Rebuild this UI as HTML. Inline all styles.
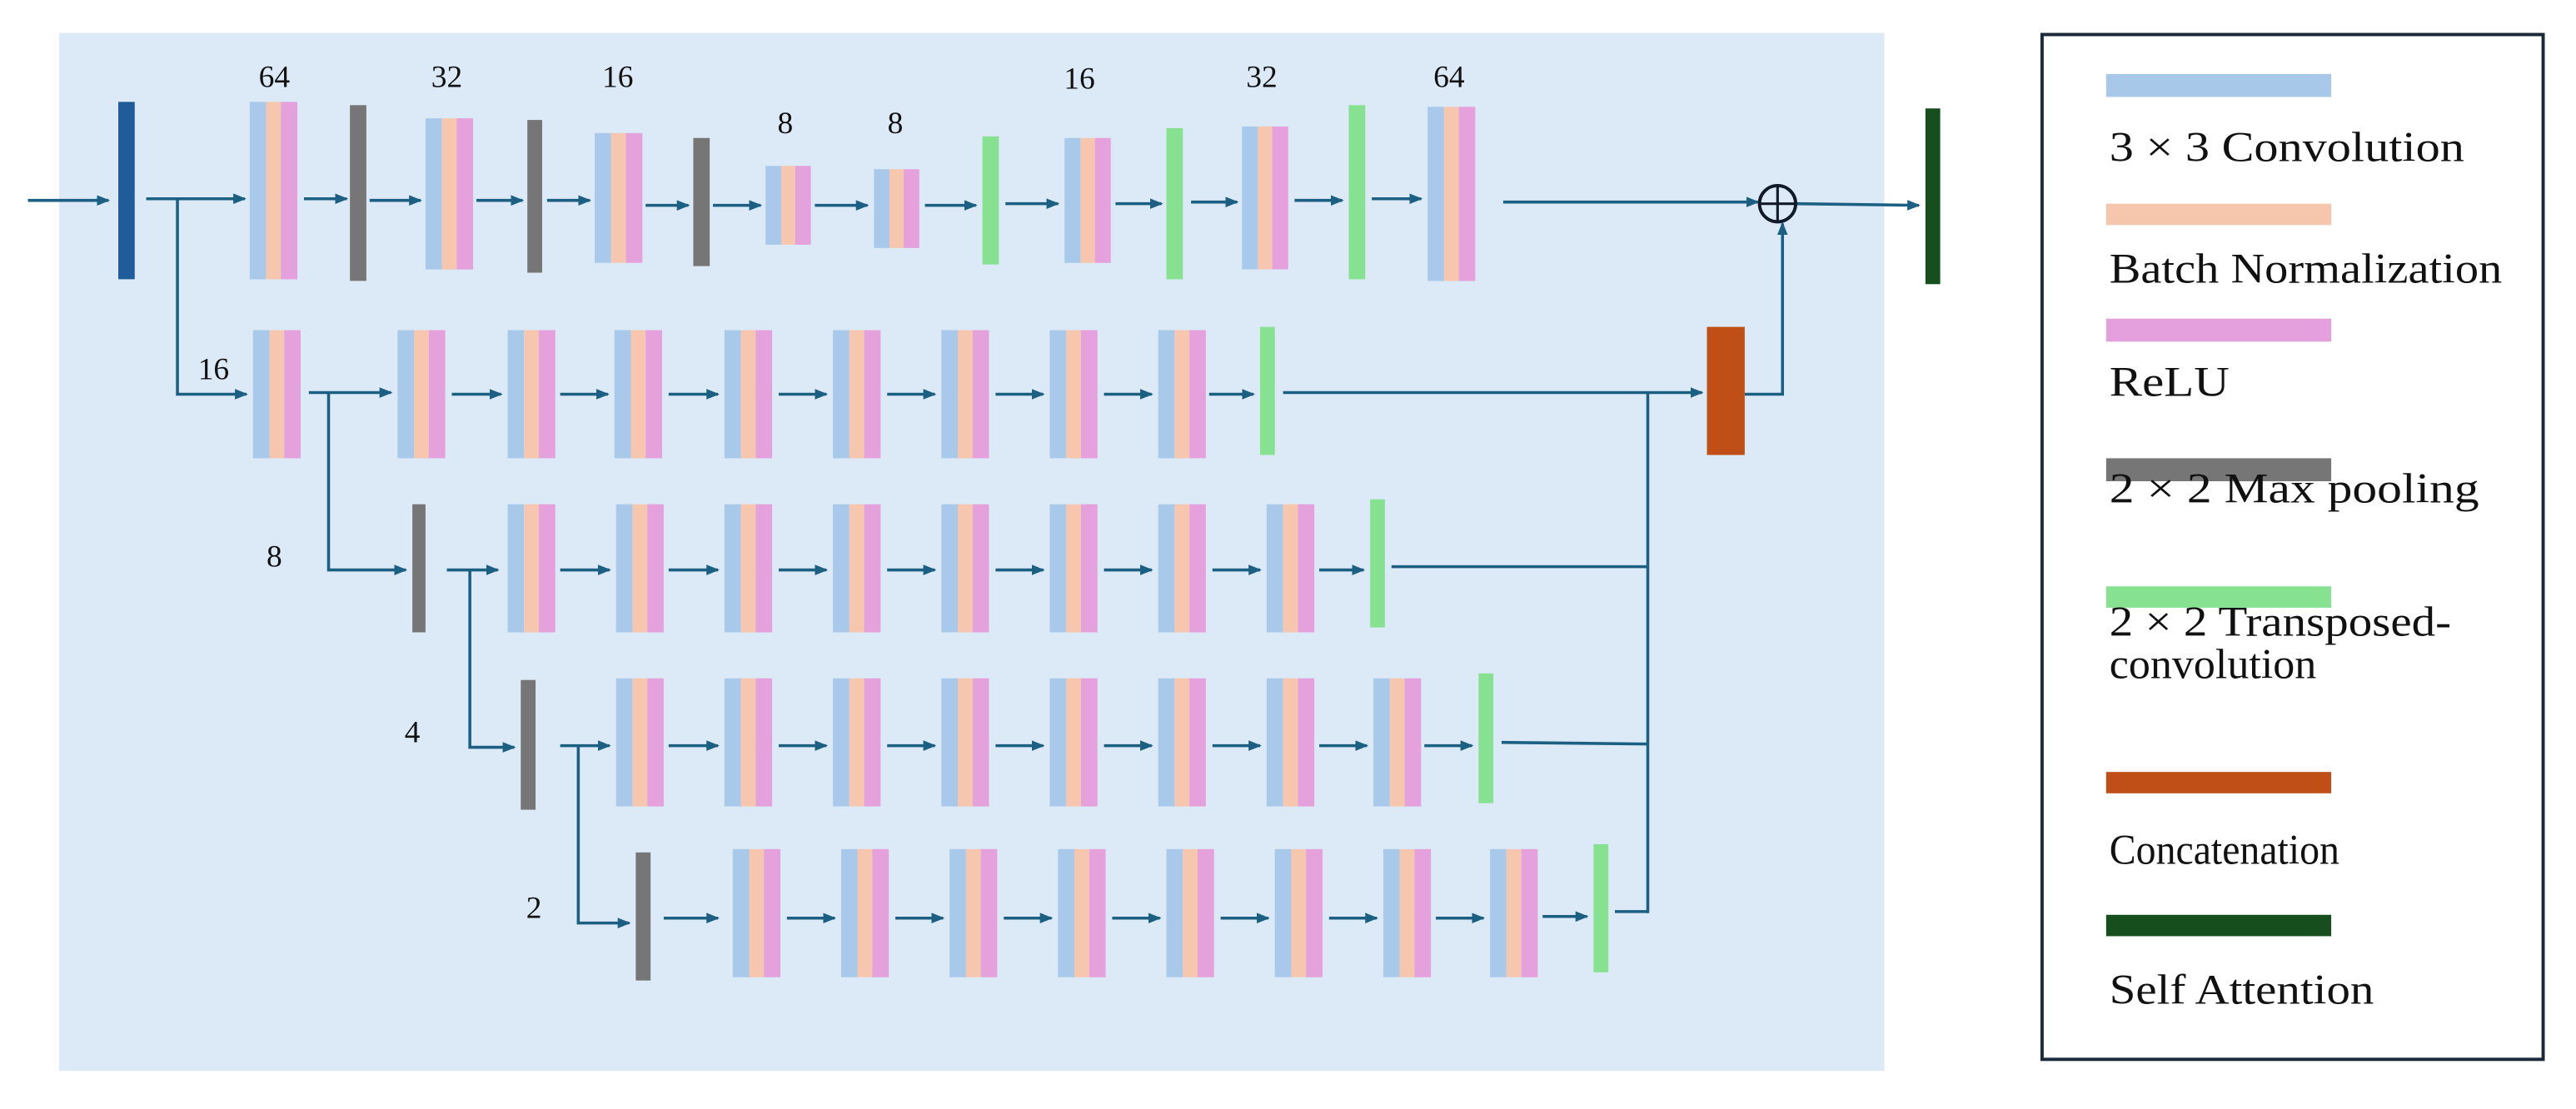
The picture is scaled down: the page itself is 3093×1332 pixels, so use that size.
<!DOCTYPE html>
<html><head><meta charset="utf-8"><style>html,body{margin:0;padding:0;background:#fff}svg{display:block}</style></head>
<body>
<svg width="3093" height="1332" viewBox="0 0 1568 675.2" xmlns="http://www.w3.org/2000/svg">
<defs>
<marker id="a" markerWidth="8" markerHeight="8" refX="7" refY="4" orient="auto" markerUnits="userSpaceOnUse"><path d="M0,0.8 L8,4 L0,7.2 Z" fill="#1b5f83"/></marker>
<g id="b"><rect x="0" y="0" width="10" height="78" fill="#a9c9eb"/><rect x="10" y="0" width="9" height="78" fill="#f6c7ae"/><rect x="19" y="0" width="10" height="78" fill="#e4a1dc"/></g>
</defs>
<rect x="0" y="0" width="1568" height="675.2" fill="#fff"/>
<rect x="36" y="20" width="1111" height="632" fill="#dce9f6"/>
<g stroke="#1b5f83" stroke-width="1.8" fill="none">
<line x1="17" y1="122" x2="66" y2="122" marker-end="url(#a)"/>
<line x1="89" y1="121" x2="149" y2="121" marker-end="url(#a)"/>
<polyline points="108,121 108,240 150,240" marker-end="url(#a)"/>
<line x1="185" y1="121" x2="211" y2="121" marker-end="url(#a)"/>
<line x1="225" y1="122" x2="256" y2="122" marker-end="url(#a)"/>
<line x1="290" y1="122" x2="318" y2="122" marker-end="url(#a)"/>
<line x1="333" y1="122" x2="359" y2="122" marker-end="url(#a)"/>
<line x1="393" y1="125" x2="419" y2="125" marker-end="url(#a)"/>
<line x1="434" y1="125" x2="463" y2="125" marker-end="url(#a)"/>
<line x1="496" y1="125" x2="528" y2="125" marker-end="url(#a)"/>
<line x1="563" y1="125" x2="594" y2="125" marker-end="url(#a)"/>
<line x1="612" y1="124" x2="644" y2="124" marker-end="url(#a)"/>
<line x1="679" y1="124" x2="707" y2="124" marker-end="url(#a)"/>
<line x1="725" y1="123" x2="753" y2="123" marker-end="url(#a)"/>
<line x1="788" y1="122" x2="817" y2="122" marker-end="url(#a)"/>
<line x1="835" y1="121" x2="865" y2="121" marker-end="url(#a)"/>
<line x1="915" y1="123" x2="1070" y2="123" marker-end="url(#a)"/>
<line x1="1093" y1="124" x2="1168" y2="125" marker-end="url(#a)"/>
<line x1="188" y1="239" x2="238" y2="239" marker-end="url(#a)"/>
<polyline points="200,239 200,347 247,347" marker-end="url(#a)"/>
<line x1="275" y1="240" x2="305" y2="240" marker-end="url(#a)"/>
<line x1="341" y1="240" x2="370" y2="240" marker-end="url(#a)"/>
<line x1="407" y1="240" x2="437" y2="240" marker-end="url(#a)"/>
<line x1="474" y1="240" x2="503" y2="240" marker-end="url(#a)"/>
<line x1="540" y1="240" x2="569" y2="240" marker-end="url(#a)"/>
<line x1="606" y1="240" x2="635" y2="240" marker-end="url(#a)"/>
<line x1="672" y1="240" x2="701" y2="240" marker-end="url(#a)"/>
<line x1="736" y1="240" x2="763" y2="240" marker-end="url(#a)"/>
<line x1="781" y1="239" x2="1036" y2="239" marker-end="url(#a)"/>
<polyline points="1062,240 1085,240 1085,136" marker-end="url(#a)"/>
<line x1="1003" y1="239" x2="1003" y2="556"/>
<line x1="272" y1="347" x2="303" y2="347" marker-end="url(#a)"/>
<polyline points="286,347 286,455 313,455" marker-end="url(#a)"/>
<line x1="341" y1="347" x2="371" y2="347" marker-end="url(#a)"/>
<line x1="407" y1="347" x2="437" y2="347" marker-end="url(#a)"/>
<line x1="474" y1="347" x2="503" y2="347" marker-end="url(#a)"/>
<line x1="540" y1="347" x2="569" y2="347" marker-end="url(#a)"/>
<line x1="606" y1="347" x2="635" y2="347" marker-end="url(#a)"/>
<line x1="672" y1="347" x2="701" y2="347" marker-end="url(#a)"/>
<line x1="738" y1="347" x2="767" y2="347" marker-end="url(#a)"/>
<line x1="803" y1="347" x2="830" y2="347" marker-end="url(#a)"/>
<line x1="847" y1="345" x2="1003" y2="345"/>
<line x1="341" y1="454" x2="371" y2="454" marker-end="url(#a)"/>
<polyline points="352,454 352,562 383,562" marker-end="url(#a)"/>
<line x1="407" y1="454" x2="437" y2="454" marker-end="url(#a)"/>
<line x1="474" y1="454" x2="503" y2="454" marker-end="url(#a)"/>
<line x1="540" y1="454" x2="569" y2="454" marker-end="url(#a)"/>
<line x1="606" y1="454" x2="635" y2="454" marker-end="url(#a)"/>
<line x1="672" y1="454" x2="701" y2="454" marker-end="url(#a)"/>
<line x1="738" y1="454" x2="767" y2="454" marker-end="url(#a)"/>
<line x1="803" y1="454" x2="832" y2="454" marker-end="url(#a)"/>
<line x1="867" y1="454" x2="896" y2="454" marker-end="url(#a)"/>
<line x1="914" y1="452" x2="1003" y2="453"/>
<line x1="404" y1="559" x2="437" y2="559" marker-end="url(#a)"/>
<line x1="479" y1="559" x2="508" y2="559" marker-end="url(#a)"/>
<line x1="545" y1="559" x2="574" y2="559" marker-end="url(#a)"/>
<line x1="611" y1="559" x2="640" y2="559" marker-end="url(#a)"/>
<line x1="677" y1="559" x2="706" y2="559" marker-end="url(#a)"/>
<line x1="743" y1="559" x2="772" y2="559" marker-end="url(#a)"/>
<line x1="809" y1="559" x2="838" y2="559" marker-end="url(#a)"/>
<line x1="874" y1="559" x2="903" y2="559" marker-end="url(#a)"/>
<line x1="939" y1="558" x2="966" y2="558" marker-end="url(#a)"/>
<line x1="983" y1="555" x2="1003" y2="555"/>
</g>
<circle cx="1082" cy="124" r="11" fill="none" stroke="#111a2a" stroke-width="2"/>
<line x1="1071" y1="124" x2="1093" y2="124" stroke="#111a2a" stroke-width="1.6"/>
<line x1="1082" y1="113" x2="1082" y2="135" stroke="#111a2a" stroke-width="1.6"/>
<rect x="72" y="62" width="10" height="108" fill="#1f5c99"/>
<g transform="translate(152,62) scale(1,1.385)"><use href="#b"/></g>
<rect x="213" y="64" width="10" height="107" fill="#767676"/>
<g transform="translate(259,72) scale(1,1.18)"><use href="#b"/></g>
<rect x="321" y="73" width="9" height="93" fill="#767676"/>
<g transform="translate(362,81) scale(1,1.013)"><use href="#b"/></g>
<rect x="422" y="84" width="10" height="78" fill="#767676"/>
<g transform="translate(466,101) scale(0.95,0.615)"><use href="#b"/></g>
<g transform="translate(532,103) scale(0.95,0.615)"><use href="#b"/></g>
<rect x="598" y="83" width="10" height="78" fill="#86e190"/>
<g transform="translate(648,84) scale(0.97,0.975)"><use href="#b"/></g>
<rect x="710" y="78" width="10" height="92" fill="#86e190"/>
<g transform="translate(756,77) scale(0.97,1.115)"><use href="#b"/></g>
<rect x="821" y="64" width="10" height="106" fill="#86e190"/>
<g transform="translate(869,65) scale(1,1.36)"><use href="#b"/></g>
<rect x="1172" y="66" width="9" height="107" fill="#174e1d"/>
<use href="#b" x="154" y="201"/>
<use href="#b" x="242" y="201"/><use href="#b" x="309" y="201"/><use href="#b" x="374" y="201"/><use href="#b" x="441" y="201"/>
<use href="#b" x="507" y="201"/><use href="#b" x="573" y="201"/><use href="#b" x="639" y="201"/><use href="#b" x="705" y="201"/>
<rect x="767" y="199" width="9" height="78" fill="#86e190"/>
<rect x="1039" y="199" width="23" height="78" fill="#bf4f16"/>
<rect x="251" y="307" width="8" height="78" fill="#767676"/>
<use href="#b" x="309" y="307"/><use href="#b" x="375" y="307"/><use href="#b" x="441" y="307"/><use href="#b" x="507" y="307"/>
<use href="#b" x="573" y="307"/><use href="#b" x="639" y="307"/><use href="#b" x="705" y="307"/><use href="#b" x="771" y="307"/>
<rect x="834" y="304" width="9" height="78" fill="#86e190"/>
<rect x="317" y="414" width="9" height="79" fill="#767676"/>
<use href="#b" x="375" y="413"/><use href="#b" x="441" y="413"/><use href="#b" x="507" y="413"/><use href="#b" x="573" y="413"/>
<use href="#b" x="639" y="413"/><use href="#b" x="705" y="413"/><use href="#b" x="771" y="413"/><use href="#b" x="836" y="413"/>
<rect x="900" y="410" width="9" height="79" fill="#86e190"/>
<rect x="387" y="519" width="9" height="78" fill="#767676"/>
<use href="#b" x="446" y="517"/><use href="#b" x="512" y="517"/><use href="#b" x="578" y="517"/><use href="#b" x="644" y="517"/>
<use href="#b" x="710" y="517"/><use href="#b" x="776" y="517"/><use href="#b" x="842" y="517"/><use href="#b" x="907" y="517"/>
<rect x="970" y="514" width="9" height="78" fill="#86e190"/>
<g font-family="Liberation Serif, serif" font-size="19" fill="#111" text-anchor="middle">
<text x="167" y="53">64</text><text x="272" y="53">32</text><text x="376" y="53">16</text>
<text x="478" y="81">8</text><text x="545" y="81">8</text>
<text x="657" y="54">16</text><text x="768" y="53">32</text><text x="882" y="53">64</text>
<text x="130" y="231">16</text><text x="167" y="345">8</text><text x="251" y="452">4</text><text x="325" y="559">2</text>
</g>
<rect x="1243" y="21" width="305" height="624" fill="#fff" stroke="#1a2a3a" stroke-width="2"/>
<rect x="1282" y="45" width="137" height="14" fill="#a8c8ea"/>
<rect x="1282" y="124" width="137" height="13" fill="#f6c7ad"/>
<rect x="1282" y="194" width="137" height="14" fill="#e4a0dc"/>
<rect x="1282" y="279" width="137" height="14" fill="#767676"/>
<rect x="1282" y="357" width="137" height="13" fill="#86e190"/>
<rect x="1282" y="470" width="137" height="13" fill="#bf4f16"/>
<rect x="1282" y="557" width="137" height="13" fill="#174e1d"/>
<g font-family="Liberation Serif, serif" font-size="26" fill="#111" lengthAdjust="spacingAndGlyphs">
<text x="1284" y="98" textLength="216" lengthAdjust="spacingAndGlyphs">3 × 3 Convolution</text>
<text x="1284" y="172" textLength="239" lengthAdjust="spacingAndGlyphs">Batch Normalization</text>
<text x="1284" y="241" textLength="73" lengthAdjust="spacingAndGlyphs">ReLU</text>
<text x="1284" y="306" textLength="225" lengthAdjust="spacingAndGlyphs">2 × 2 Max pooling</text>
<text x="1284" y="387" textLength="208" lengthAdjust="spacingAndGlyphs">2 × 2 Transposed-</text>
<text x="1284" y="413" textLength="126" lengthAdjust="spacingAndGlyphs">convolution</text>
<text x="1284" y="526" textLength="140" lengthAdjust="spacingAndGlyphs">Concatenation</text>
<text x="1284" y="611" textLength="161" lengthAdjust="spacingAndGlyphs">Self Attention</text>
</g>
</svg>
</body></html>
